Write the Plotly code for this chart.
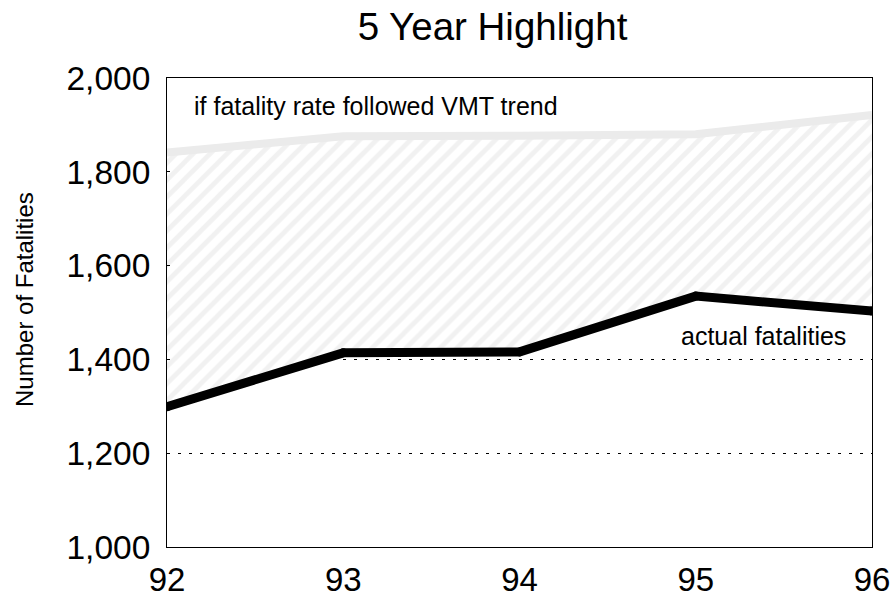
import plotly.graph_objects as go

years = [92, 93, 94, 95, 96]
tick_labels = ["92", "93", "94", "95", "96"]
actual = [1299, 1414, 1416, 1535, 1503]
vmt_trend = [1841, 1876, 1877, 1880, 1921]

font_family = "Liberation Sans, Arial, Helvetica, sans-serif"

fig = go.Figure()
# baseline for the hatched fill
fig.add_trace(go.Scatter(x=years, y=actual, mode="lines",
                         line=dict(width=0, color="black"),
                         showlegend=False, hoverinfo="skip"))
fig.add_trace(go.Scatter(x=years, y=vmt_trend, mode="lines",
                         line=dict(width=8, color="#ebebeb"),
                         fill="tonexty", fillcolor="white",
                         fillpattern=dict(shape="/", fgcolor="#e4e4e4", bgcolor="white",
                                          size=12, solidity=0.4),
                         showlegend=False))
fig.add_trace(go.Scatter(x=years, y=actual, mode="lines+markers",
                         line=dict(width=9, color="black"),
                         marker=dict(size=9, color="black"),
                         showlegend=False))

fig.add_annotation(x=92.142, y=1940, xref="x", yref="y", text="if fatality rate followed VMT trend",
                   showarrow=False, xanchor="left", yanchor="middle",
                   font=dict(family=font_family, size=25, color="black"))
fig.add_annotation(x=95.864, y=1450, xref="x", yref="y", text="actual fatalities",
                   showarrow=False, xanchor="right", yanchor="middle",
                   font=dict(family=font_family, size=25, color="black"))
# y-axis title
fig.add_annotation(x=-0.2014, y=0.5267, xref="paper", yref="paper", text="Number of Fatalities",
                   textangle=-90, showarrow=False, xanchor="center", yanchor="middle",
                   font=dict(family=font_family, size=24, color="black"))

fig.update_layout(
    width=895, height=597,
    margin=dict(l=167, r=23, t=78, b=50, autoexpand=False),
    paper_bgcolor="white", plot_bgcolor="white",
    title=dict(text="5 Year Highlight", x=0.5503, xanchor="center", y=0.9548, yanchor="middle",
               font=dict(family=font_family, size=38.5, color="black")),
    font=dict(family=font_family, color="black"),
    xaxis=dict(range=[92, 96], tickvals=years, ticktext=tick_labels, automargin=False,
               showgrid=False, zeroline=False, showline=True, linecolor="black", linewidth=1,
               mirror=True, ticks="", tickfont=dict(size=33), ticklabelstandoff=3),
    yaxis=dict(range=[1000, 2000], tickvals=[1000, 1200, 1400, 1600, 1800, 2000], automargin=False,
               tickformat=",d", showgrid=True, gridcolor="black", griddash="3px,8px", gridwidth=1,
               zeroline=False, showline=True, linecolor="black", linewidth=1, mirror=True,
               ticks="inside", ticklen=3, tickcolor="black",
               tickfont=dict(size=33.5), ticklabelstandoff=9),
)

fig.write_html("out.html", config={"displayModeBar": False},
               post_script="document.body.style.margin='0';document.body.style.overflow='hidden';")
